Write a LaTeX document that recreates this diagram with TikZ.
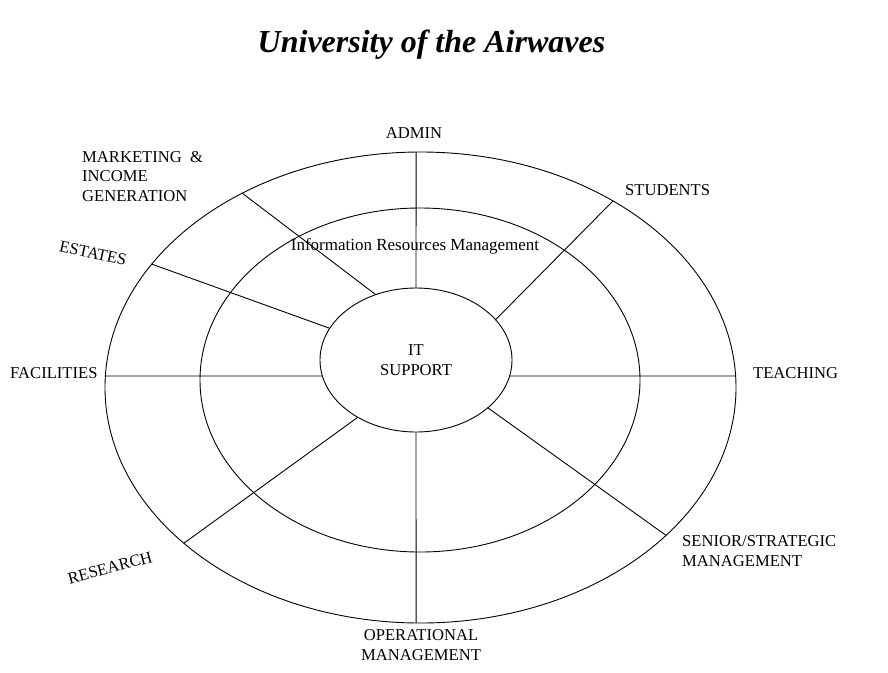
\documentclass[tikz,border=0pt]{standalone}
\usepackage{fontspec}
\setmainfont{Liberation Serif}
\usetikzlibrary{shapes.geometric,positioning,calc}

\begin{document}
\begin{tikzpicture}[x=1pt,y=-1pt,
  ring/.style={draw,ellipse,line width=0.9pt,inner sep=0pt,outer sep=0pt},
  spoke/.style={line width=0.9pt},
  lbl/.style={font=\fontsize{16.6}{19.5}\selectfont,inner sep=0pt,align=left},
  ttl/.style={font=\fontsize{32}{38}\selectfont\bfseries\itshape,inner sep=0pt}]
  \useasboundingbox[fill=white] (0,0) rectangle (888,672);
  \node[ttl,anchor=base] (title) at (431.5,52) {University of the Airwaves};
  % the three rings
  \node[ring,minimum width=631pt,minimum height=471pt] (outer) at (420.5,387.5) {};
  \node[ring,minimum width=440pt,minimum height=344pt] (irm) at (420,380) {};
  \node[ring,lbl,align=center,minimum width=192pt,minimum height=144pt] (it) at (416,360) {IT\\SUPPORT};
  \node[lbl,anchor=base,font=\fontsize{17}{20}\selectfont] (irmtext) at (415,250.7) {Information Resources Management};
  % spokes, inner ring to outer ring
  \draw[spoke] ($(it.center)+(-90:96 and 72)$) -- ($(outer.center)+(-90.8:315.5 and 235.5)$);
  \draw[spoke] ($(it.center)+(-34:96 and 72)$) -- ($(outer.center)+(-52.4:315.5 and 235.5)$);
  \draw[spoke] ($(it.center)+(12.84:96 and 72)$) -- ($(outer.center)+(-2.8:315.5 and 235.5)$);
  \draw[spoke] ($(it.center)+(41.6:96 and 72)$) -- ($(outer.center)+(38.9:315.5 and 235.5)$);
  \draw[spoke] ($(it.center)+(90:96 and 72)$) -- ($(outer.center)+(90.8:315.5 and 235.5)$);
  \draw[spoke] ($(it.center)+(127.3:96 and 72)$) -- ($(outer.center)+(138.6:315.5 and 235.5)$);
  \draw[spoke] ($(it.center)+(167.16:96 and 72)$) -- ($(outer.center)+(182.8:315.5 and 235.5)$);
  \draw[spoke] ($(it.center)+(206.1:96 and 72)$) -- ($(outer.center)+(211.6:315.5 and 235.5)$);
  \draw[spoke] ($(it.center)+(245.2:96 and 72)$) -- ($(outer.center)+(235.6:315.5 and 235.5)$);
  % areas
  \node[lbl,anchor=base] (admin) at (414,138) {ADMIN};
  \node[lbl,anchor=base west] (mkt) at (82,201) {MARKETING\ \ \&\\INCOME\\GENERATION};
  \node[lbl,anchor=base west] (stud) at (625,195) {STUDENTS};
  \node[lbl,rotate=-12] (est) at (93,253) {ESTATES};
  \node[lbl,anchor=base west] (fac) at (10,378) {FACILITIES};
  \node[lbl,anchor=base west] (teach) at (753,378) {TEACHING};
  \node[lbl,rotate=15] (res) at (110,568) {RESEARCH};
  \node[lbl,anchor=base west] (senior) at (682,566) {SENIOR/STRATEGIC\\MANAGEMENT};
  \node[lbl,anchor=base,align=center] (ops) at (421,660) {OPERATIONAL\\MANAGEMENT};
\end{tikzpicture}
\end{document}
